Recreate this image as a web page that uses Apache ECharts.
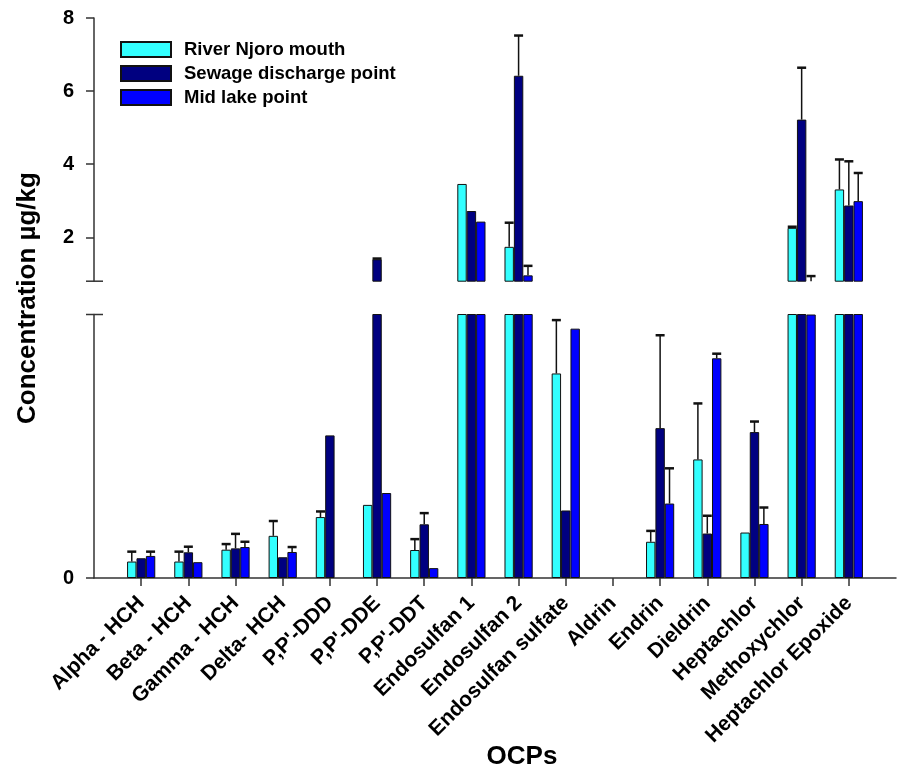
<!DOCTYPE html>
<html><head><meta charset="utf-8">
<script src="https://cdn.jsdelivr.net/npm/echarts@6/dist/echarts.min.js"></script>
<style>html,body{margin:0;padding:0;background:#fff}#c{width:899px;height:771px}</style>
</head><body><div id="c"></div>
<script>
// ---- data ----
const categories = ['Alpha - HCH','Beta - HCH','Gamma - HCH','Delta- HCH',"P,P'-DDD","P,P'-DDE","P,P'-DDT",
  'Endosulfan 1','Endosulfan 2','Endosulfan sulfate','Aldrin','Endrin','Dieldrin','Heptachlor','Methoxychlor','Heptachlor Epoxide'];
const seriesNames = ['River Njoro mouth','Sewage discharge point','Mid lake point'];
const riverNjoro    = [0.050,0.050,0.086,0.128,0.185,0.222,0.085,3.46,1.74,0.621,0,0.110,0.360,0.138,2.26,3.31];
const riverNjoroErr = [0.030,0.030,0.017,0.045,0.017,0,0.033,0,0.66,0.162,0,0.033,0.170,0,0.03,0.82];
const sewage        = [0.060,0.078,0.090,0.063,0.433,1.40,0.163,2.72,6.42,0.205,0,0.455,0.135,0.443,5.22,2.87];
const sewageErr     = [0,0.017,0.044,0,0,0.02,0.034,0,1.10,0,0,0.282,0.054,0.032,1.42,1.21];
const midLake       = [0.067,0.048,0.094,0.079,0,0.258,0.030,2.43,0.96,0.757,0,0.226,0.667,0.164,0.80,2.99];
const midLakeErr    = [0.013,0,0.016,0.015,0,0,0,0,0.26,0,0,0.107,0.014,0.050,0.14,0.77];
const upperTicks = [2,4,6,8];
const lowerTicks = [0];
const BREAK = 0.8;     // axis break value
const UPPER_MAX = 8;

// ---- styling ----
const colors = ['#33ffff','#000080','#0000ff'];
const BAR_W = 9.4;
const FONT = '"Liberation Sans", Arial, sans-serif';
const values = [riverNjoro, sewage, midLake];
const errs = [riverNjoroErr, sewageErr, midLakeErr];
const xData = [''].concat(categories, ['']);
const pad = arr => ['-'].concat(arr, ['-']);
const showIdx = i => i > 0 && i < xData.length - 1;

function barSeries(si, grid) {
  const d = values[si].map(v => grid === 0 ? (v > BREAK ? v : '-') : (v > 0 ? v : '-'));
  return {
    name: seriesNames[si], type: 'bar', xAxisIndex: grid, yAxisIndex: grid,
    data: pad(d), barWidth: BAR_W, barGap: '0%',
    itemStyle: { color: colors[si], borderColor: '#111', borderWidth: 1 },
    silent: true, animation: false
  };
}
function errSeries(grid) {
  const data = [];
  values.forEach((vals, si) => vals.forEach((v, i) => { if (errs[si][i] > 0) data.push([i + 1, v, errs[si][i], si]); }));
  return {
    type: 'custom', xAxisIndex: grid, yAxisIndex: grid, z: 5, silent: true, animation: false,
    data, encode: { x: 0, y: 1 },
    renderItem(params, api) {
      const x = api.value(0), v = api.value(1), e = api.value(2), si = api.value(3);
      const top = v + e;
      let lo, hi, cap;
      if (grid === 0) { if (top <= BREAK) return; lo = Math.max(v, BREAK); hi = top; cap = true; }
      else { if (v >= BREAK) return; lo = v; hi = Math.min(top, BREAK); cap = top <= BREAK; }
      const c0 = api.coord([x, lo]), c1 = api.coord([x, hi]);
      const cx = c0[0] + (si - 1) * BAR_W;
      const children = [{ type: 'line', shape: { x1: cx, y1: c0[1], x2: cx, y2: c1[1] }, style: { stroke: '#111', lineWidth: 1.5 } }];
      if (cap) children.push({ type: 'line', shape: { x1: cx - 4.5, y1: c1[1], x2: cx + 4.5, y2: c1[1] }, style: { stroke: '#111', lineWidth: 2.5 } });
      return { type: 'group', children };
    }
  };
}

const axisLineStyle = { color: '#333', width: 1.5 };
const chart = echarts.init(document.getElementById('c'));
chart.setOption({
  animation: false,
  backgroundColor: '#fff',
  grid: [
    { left: 94, top: 18, width: 802, height: 263.2 },
    { left: 94, top: 314.5, width: 802, height: 263.5 }
  ],
  legend: {
    data: seriesNames.map(n => ({ name: n, icon: 'rect' })), orient: 'vertical', left: 115, top: 35,
    itemWidth: 50, itemHeight: 15, itemGap: 5, selectedMode: false,
    textStyle: { fontFamily: FONT, fontWeight: 'bold', fontSize: 18.5, color: '#000', padding: [0, 0, 0, 8] }
  },
  xAxis: [
    { gridIndex: 0, type: 'category', data: xData, boundaryGap: false, show: false },
    { gridIndex: 1, type: 'category', data: xData, boundaryGap: false,
      axisLine: { lineStyle: axisLineStyle },
      axisTick: { length: 8, interval: showIdx, lineStyle: axisLineStyle },
      axisLabel: { interval: showIdx, rotate: 45, margin: 22, fontFamily: FONT, fontWeight: 'bold', fontSize: 21, color: '#000' },
      splitLine: { show: false } }
  ],
  yAxis: [
    { gridIndex: 0, type: 'value', min: BREAK, max: UPPER_MAX,
      axisLine: { show: true, lineStyle: axisLineStyle },
      axisTick: { show: true, length: 8, customValues: upperTicks, lineStyle: axisLineStyle },
      axisLabel: { customValues: upperTicks, margin: 20, fontFamily: FONT, fontWeight: 'bold', fontSize: 20, color: '#000' },
      splitLine: { show: false } },
    { gridIndex: 1, type: 'value', min: 0, max: BREAK,
      axisLine: { show: true, lineStyle: axisLineStyle },
      axisTick: { show: true, length: 8, customValues: lowerTicks, lineStyle: axisLineStyle },
      axisLabel: { customValues: lowerTicks, margin: 20, fontFamily: FONT, fontWeight: 'bold', fontSize: 20, color: '#000' },
      splitLine: { show: false } }
  ],
  series: [barSeries(0,0), barSeries(1,0), barSeries(2,0), barSeries(0,1), barSeries(1,1), barSeries(2,1), errSeries(0), errSeries(1)]
});

const yU = chart.convertToPixel({ yAxisIndex: 0 }, BREAK);
const yL = chart.convertToPixel({ yAxisIndex: 1 }, BREAK);
const xA = chart.convertToPixel({ xAxisIndex: 1 }, 0);
const capStyle = { stroke: '#333', lineWidth: 1.5 };
chart.setOption({
  graphic: [
    { type: 'line', shape: { x1: xA - 8, y1: yU, x2: xA + 9, y2: yU }, style: capStyle, z: 10 },
    { type: 'line', shape: { x1: xA - 8, y1: yL, x2: xA + 9, y2: yL }, style: capStyle, z: 10 },
    { type: 'text', x: 28, y: 298, rotation: Math.PI / 2,
      style: { text: 'Concentration µg/kg', font: 'bold 26px ' + FONT, fill: '#000', textAlign: 'center', textVerticalAlign: 'middle' } },
    { type: 'text', x: 522, y: 757,
      style: { text: 'OCPs', font: 'bold 26px ' + FONT, fill: '#000', textAlign: 'center', textVerticalAlign: 'middle' } }
  ]
});
</script></body></html>
